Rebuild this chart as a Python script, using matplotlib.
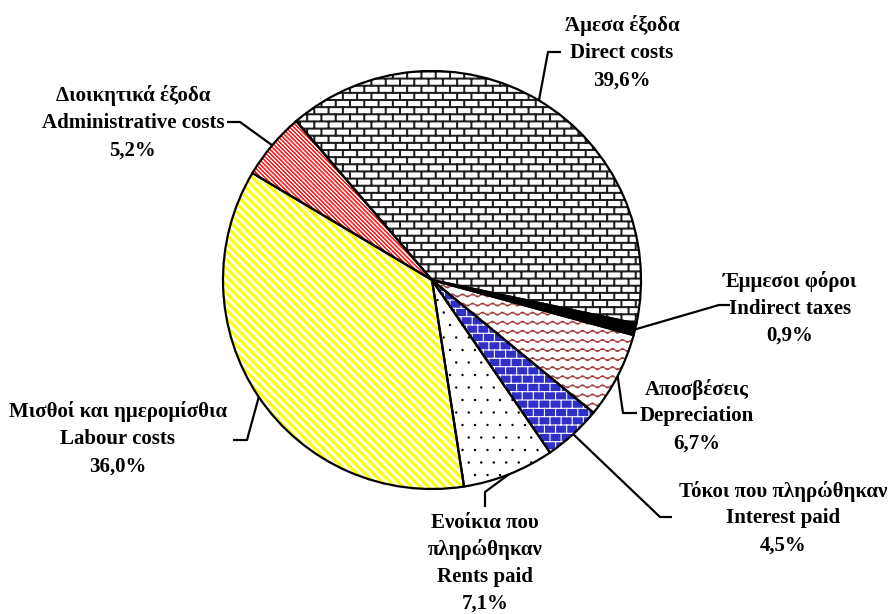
import warnings
import numpy as np
import matplotlib
matplotlib.use('Agg')
import matplotlib.pyplot as plt
from matplotlib import hatch as mhatch
from matplotlib.path import Path

warnings.filterwarnings('ignore')
plt.rcParams['hatch.linewidth'] = 0.8

# Data: cost structure (clockwise from the top)
labels_gr = ['Άμεσα έξοδα', 'Έμμεσοι φόροι', 'Αποσβέσεις', 'Τόκοι που πληρώθηκαν',
             'Ενοίκια που\nπληρώθηκαν', 'Μισθοί και ημερομίσθια', 'Διοικητικά έξοδα']
labels_en = ['Direct costs', 'Indirect taxes', 'Depreciation', 'Interest paid',
             'Rents paid', 'Labour costs', 'Administrative costs']
shares = [39.6, 0.9, 6.7, 4.5, 7.1, 36.0, 5.2]

# Styles
face_colors = ['white', 'black', 'white', '#3030C8', 'white', 'white', 'white']
hatch_colors = ['#1E1E1E', 'black', '#A33A3A', 'white', 'black', '#FFFF00', '#FF2020']
hatches = ['b', None, 'w', 'k', 'd', 'y', 'r']

W, H = 891, 614

MV, LN, CL = Path.MOVETO, Path.LINETO, Path.CLOSEPOLY


def rect(x0, y0, x1, y1):
    return [(x0, y0), (x1, y0), (x1, y1), (x0, y1), (x0, y0)], [MV, LN, LN, LN, CL]


# ---- custom textures (bricks, waves, dots, diagonal stripes) ----
class BrickHatch(mhatch.HatchPatternBase):
    # rows, columns, mortar thickness
    sizes = {'b': (14, 7, 0.009), 'k': (12, 9, 0.0)}

    def __init__(self, hatch, density):
        verts, codes = [], []
        for ch, (rows, cols, t) in self.sizes.items():
            if ch not in hatch:
                continue
            segs = [((0, i / rows), (1, i / rows)) for i in range(rows + 1)]
            for i in range(rows):
                y0, y1 = i / rows, (i + 1) / rows
                if i % 2 == 0:
                    xs = np.arange(cols + 1) / cols
                else:
                    xs = (np.arange(cols) + 0.5) / cols
                segs += [((x, y0), (x, y1)) for x in xs]
            for (xa, ya), (xb, yb) in segs:
                if t > 0:
                    v, c = rect(xa - t / 2 if xa == xb else xa, ya - t / 2 if ya == yb else ya,
                                xb + t / 2 if xa == xb else xb, yb + t / 2 if ya == yb else yb)
                else:
                    v, c = [(xa, ya), (xb, yb)], [MV, LN]
                verts += v
                codes += c
        self.verts = np.array(verts, float).reshape(-1, 2)
        self.codes = np.array(codes, dtype=Path.code_type)
        self.num_vertices = len(self.verts)

    def set_vertices_and_codes(self, vertices, codes):
        vertices[:] = self.verts
        codes[:] = self.codes


class WaveHatch(mhatch.HatchPatternBase):
    def __init__(self, hatch, density):
        self.rows = 11 if 'w' in hatch else 0
        self.periods = 10
        self.npts = 81
        self.num_vertices = self.rows * self.npts

    def set_vertices_and_codes(self, vertices, codes):
        x = np.linspace(0, 1, self.npts)
        for i in range(self.rows):
            y = (i + 0.5) / self.rows + 0.015 * np.sin(2 * np.pi * self.periods * x)
            sl = slice(i * self.npts, (i + 1) * self.npts)
            vertices[sl, 0] = x
            vertices[sl, 1] = y
            codes[sl] = LN
            codes[i * self.npts] = MV


class StripeHatch(mhatch.HatchPatternBase):
    # filled "\" stripes: lines per unit, thickness (unit fraction)
    sizes = {'y': (12, 0.02), 'r': (24, 0.002)}

    def __init__(self, hatch, density):
        verts, codes = [], []
        for ch, (n, t) in self.sizes.items():
            if ch not in hatch:
                continue
            e = t / np.sqrt(2)
            for k in range(-2, 2 * n + 3):
                c = k / n
                verts += [(-1, c - e + 1), (2, c - e - 2), (2, c + e - 2),
                          (-1, c + e + 1), (-1, c - e + 1)]
                codes += [MV, LN, LN, LN, CL]
        self.verts = np.array(verts, float).reshape(-1, 2)
        self.codes = np.array(codes, dtype=Path.code_type)
        self.num_vertices = len(self.verts)

    def set_vertices_and_codes(self, vertices, codes):
        vertices[:] = self.verts
        codes[:] = self.codes


class DotHatch(mhatch.Circles):
    size = 0.05
    filled = True

    def __init__(self, hatch, density):
        self.num_rows = 8 * hatch.count('d')
        super().__init__(hatch, density)


mhatch._hatch_types.extend([BrickHatch, WaveHatch, StripeHatch, DotHatch])

fig = plt.figure(figsize=(W / 100, H / 100), dpi=100)
ax = fig.add_axes([0, 0, 1, 1])

cx, cy, r = 432, H - 280, 209
start = 130.5

wedges, _ = ax.pie(shares, startangle=start, counterclock=False, center=(cx, cy),
                   radius=r, colors=face_colors, wedgeprops=dict(linewidth=0))
for w, hc, h in zip(wedges, hatch_colors, hatches):
    w.set_edgecolor(hc)
    w.set_linewidth(0)
    if h:
        w.set_hatch(h)

# black outlines on top
ax.pie(shares, startangle=start, counterclock=False, center=(cx, cy), radius=r,
       wedgeprops=dict(fill=False, edgecolor='black', linewidth=1.6))

# leader lines: elbow + end point (pixels from top-left)
leaders = [
    [(548, 52), (561, 52)],
    [(719, 305), (730, 305)],
    [(623, 413), (637, 413)],
    [(660, 517), (672, 517)],
    [(485, 492), (485, 507)],
    [(247, 440), (233, 440)],
    [(240, 122), (227, 122)],
]
label_pos = [(622, 52), (790, 307), (697, 415), (783, 517), (485, 562), (118, 438), (133, 122)]

for w, pts in zip(wedges, leaders):
    th = np.deg2rad((w.theta1 + w.theta2) / 2)
    xs = [cx + r * np.cos(th)] + [p[0] for p in pts]
    ys = [cy + r * np.sin(th)] + [H - p[1] for p in pts]
    ax.plot(xs, ys, color='black', lw=1.6, solid_capstyle='butt')

step = 27
for gr, en, v, (x, y) in zip(labels_gr, labels_en, shares, label_pos):
    lines = gr.split('\n') + [en, f'{v:.1f}%'.replace('.', ',')]
    n = len(lines)
    for k, line in enumerate(lines):
        yy = y + (k - (n - 1) / 2) * step + 6.5
        ax.text(x, H - yy, line, ha='center', va='baseline',
                family='Liberation Serif', fontweight='bold', fontsize=15)

ax.set_xlim(0, W)
ax.set_ylim(0, H)
ax.axis('off')

fig.savefig('out.png', dpi=100)
